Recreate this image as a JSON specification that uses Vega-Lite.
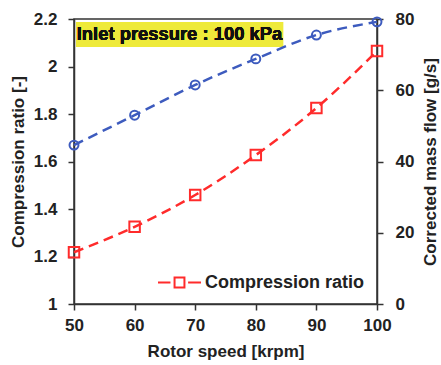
{
  "$schema": "https://vega.github.io/schema/vega-lite/v6.json",
  "width": 303,
  "height": 285,
  "autosize": "none",
  "padding": {"left": 74, "top": 19, "right": 64, "bottom": 61},
  "background": "white",
  "config": {
    "font": "Liberation Sans",
    "view": {"stroke": "#333", "strokeWidth": 1.5},
    "axis": {
      "grid": false,
      "labelFlush": false,
      "labelFont": "Liberation Sans",
      "labelFontWeight": "bold",
      "labelFontSize": 17,
      "labelColor": "#222",
      "titleFont": "Liberation Sans",
      "titleFontWeight": "bold",
      "titleFontSize": 17,
      "titleColor": "#222",
      "domainColor": "#333",
      "domainWidth": 1.5,
      "tickColor": "#333",
      "tickWidth": 1.5,
      "tickSize": 6
    }
  },
  "data": {
    "values": [
      {"speed": 50, "cr": 1.218, "mflow": 44.6},
      {"speed": 60, "cr": 1.325, "mflow": 53.0},
      {"speed": 70, "cr": 1.459, "mflow": 61.5},
      {"speed": 80, "cr": 1.627, "mflow": 68.8},
      {"speed": 90, "cr": 1.825, "mflow": 75.5},
      {"speed": 100, "cr": 2.065, "mflow": 79.2}
    ]
  },
  "layer": [
    {
      "layer": [
        {
          "mark": {"type": "rect", "color": "#EEEA3A"},
          "encoding": {
            "x": {"datum": 50.33, "type": "quantitative", "title": "Rotor speed [krpm]", "scale": {"domain": [50, 100], "nice": false, "zero": false}},
            "x2": {"datum": 84.5},
            "y": {"datum": 2.187, "type": "quantitative", "title": "Compression ratio [-]", "scale": {"domain": [1, 2.2], "nice": false, "zero": false}},
            "y2": {"datum": 2.082}
          }
        },
        {
          "mark": {"type": "text", "text": "Inlet pressure : 100 kPa", "align": "left", "baseline": "middle", "font": "Liberation Sans", "fontWeight": "bold", "fontSize": 18.4, "color": "#111"},
          "encoding": {
            "x": {"datum": 50.45, "type": "quantitative", "title": "Rotor speed [krpm]", "scale": {"domain": [50, 100], "nice": false, "zero": false}},
            "y": {"datum": 2.135, "type": "quantitative", "title": "Compression ratio [-]", "scale": {"domain": [1, 2.2], "nice": false, "zero": false}}
          }
        },
        {
          "mark": {"type": "line", "strokeDash": [10, 6], "strokeWidth": 2.5, "interpolate": "monotone"},
          "encoding": {
            "x": {"field": "speed", "type": "quantitative", "title": "Rotor speed [krpm]",
                  "scale": {"domain": [50, 100], "nice": false, "zero": false},
                  "axis": {"values": [50, 60, 70, 80, 90, 100], "labelPadding": 7, "titlePadding": 10}},
            "y": {"field": "cr", "type": "quantitative", "title": "Compression ratio [-]",
                  "scale": {"domain": [1, 2.2], "nice": false, "zero": false},
                  "axis": {"orient": "left", "values": [1, 1.2, 1.4, 1.6, 1.8, 2, 2.2], "format": "~g", "labelPadding": 11, "titlePadding": 6}},
            "color": {"datum": "Compression ratio", "type": "nominal",
                      "scale": {"range": ["#FF2B2B"]},
                      "legend": {"title": null, "orient": "none", "legendX": 83, "legendY": 241,
                                 "symbolType": "M-1,0H-0.42M-0.23,-0.23H0.23V0.23H-0.23ZM0.4,0H1",
                                 "symbolSize": 1849, "symbolStrokeWidth": 2, "symbolOpacity": 1,
                                 "labelFont": "Liberation Sans", "labelFontWeight": "bold", "labelFontSize": 18,
                                 "labelColor": "#222", "labelOffset": 3}}
          }
        },
        {
          "mark": {"type": "point", "shape": "square", "filled": false, "size": 110, "strokeWidth": 2, "opacity": 1},
          "encoding": {
            "x": {"field": "speed", "type": "quantitative", "title": "Rotor speed [krpm]", "scale": {"domain": [50, 100], "nice": false, "zero": false}},
            "y": {"field": "cr", "type": "quantitative", "title": "Compression ratio [-]", "scale": {"domain": [1, 2.2], "nice": false, "zero": false}},
            "color": {"datum": "Compression ratio", "type": "nominal"}
          }
        }
      ]
    },
    {
      "layer": [
        {
          "mark": {"type": "line", "color": "#3D5BBE", "strokeDash": [10, 6], "strokeWidth": 2.5, "interpolate": "monotone"},
          "encoding": {
            "x": {"field": "speed", "type": "quantitative", "title": "Rotor speed [krpm]", "scale": {"domain": [50, 100], "nice": false, "zero": false}},
            "y": {"field": "mflow", "type": "quantitative", "title": "Corrected mass flow [g/s]",
                  "scale": {"domain": [0, 80], "nice": false},
                  "axis": {"orient": "right", "values": [0, 20, 40, 60, 80], "labelPadding": 12, "titlePadding": 26, "titleAngle": 270}}
          }
        },
        {
          "mark": {"type": "point", "shape": "circle", "filled": false, "color": "#3D5BBE", "size": 80, "strokeWidth": 2, "opacity": 1},
          "encoding": {
            "x": {"field": "speed", "type": "quantitative", "title": "Rotor speed [krpm]", "scale": {"domain": [50, 100], "nice": false, "zero": false}},
            "y": {"field": "mflow", "type": "quantitative", "title": "Corrected mass flow [g/s]", "scale": {"domain": [0, 80], "nice": false}}
          }
        }
      ]
    }
  ],
  "resolve": {"scale": {"y": "independent"}}
}
